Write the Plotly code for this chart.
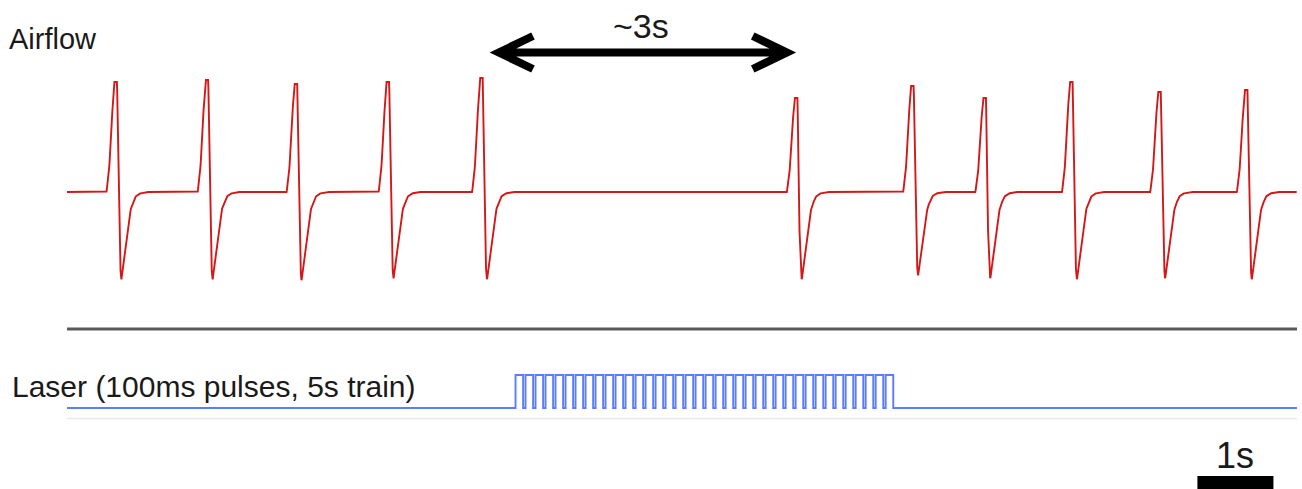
import numpy as np
import plotly.graph_objects as go

W, H = 1302, 489
T_END = 16.18  # record length shown (s)

# Breath events: time of inspiratory peak (s), peak height and trough depth (a.u.)
breath_t = [0.64, 1.84, 3.01, 4.22, 5.45, 9.59, 11.12, 12.07, 13.21, 14.37, 15.51]
breath_peak = [1.10, 1.12, 1.08, 1.10, 1.14, 0.94, 1.06, 0.94, 1.10, 1.00, 1.02]
breath_trough = [0.88, 0.88, 0.89, 0.87, 0.88, 0.88, 0.84, 0.87, 0.88, 0.87, 0.88]

# Single-breath waveform: offset from the peak (s) and normalised level
shape_dt = [-0.121, -0.105, -0.085, -0.068, -0.047, -0.025, -0.018, 0.018, 0.030,
            0.045, 0.060, 0.075, 0.097, 0.150, 0.200, 0.253, 0.305, 0.395]
shape_lv = [0.0, 0.08, 0.22, 0.39, 0.69, 0.96, 1.0, 1.0, 0.55,
            -0.42, -0.85, -1.0, -0.85, -0.46, -0.19, -0.06, -0.02, 0.0]

# Laser stimulation protocol
train_start = 5.90    # s
n_pulses = 38
pulse_period = 0.1316  # s
pulse_on = 0.100       # s

# Scale bar
bar_start, bar_len = 14.87, 1.0

# ---- airflow trace ----
t = np.arange(0.0, T_END, 0.004)
flow = np.zeros_like(t)
sdt = np.array(shape_dt)
slv = np.array(shape_lv)
for tp, pk, tr in zip(breath_t, breath_peak, breath_trough):
    lv = np.interp(t - tp, sdt, slv, left=0.0, right=0.0)
    flow += np.where(lv > 0, lv * pk, lv * tr)

# ---- laser trace (step waveform) ----
lx, ly = [0.0], [0.0]
for k in range(n_pulses):
    on = train_start + k * pulse_period
    off = on + pulse_on
    lx += [on, on, off, off]
    ly += [0.0, 1.0, 1.0, 0.0]
lx.append(T_END)
ly.append(0.0)

X0, X1 = 67, 1297  # pixel extent of the time axis


def py(p):
    """pixel row -> paper y"""
    return 1 - p / H


def px(p):
    """pixel column -> paper x"""
    return p / W


fig = go.Figure()
fig.add_trace(go.Scatter(x=t, y=flow, mode="lines",
                         line=dict(color="#d41818", width=1.9),
                         xaxis="x", yaxis="y", hoverinfo="skip"))
fig.add_trace(go.Scatter(x=lx, y=ly, mode="lines",
                         line=dict(color="#5a7cff", width=1.9),
                         xaxis="x", yaxis="y2", hoverinfo="skip"))

# airflow: baseline 0 at row 192, 100 px per unit; panel rows 60..300
fig.update_layout(
    width=W, height=H,
    margin=dict(l=0, r=0, t=0, b=0),
    paper_bgcolor="white", plot_bgcolor="white",
    showlegend=False,
    xaxis=dict(domain=[px(X0), px(X1)], range=[0, T_END], visible=False),
    yaxis=dict(domain=[py(300), py(60)], range=[-1.08, 1.32], visible=False),
    yaxis2=dict(domain=[py(420), py(360)], range=[-12 / 33, 48 / 33],
                visible=False, anchor="x"),
)

shapes = []
# separator between panels
shapes.append(dict(type="line", xref="paper", yref="paper",
                   x0=px(X0), x1=px(X1), y0=py(329), y1=py(329),
                   line=dict(color="#5a5a5a", width=3)))
# faint line under laser trace
shapes.append(dict(type="line", xref="paper", yref="paper",
                   x0=px(X0), x1=px(X1), y0=py(418.5), y1=py(418.5),
                   line=dict(color="#e8e8e8", width=1.5)))
# apnea double arrow
a0, a1 = 5.68, 9.47
ay = py(52.5)
dy = 16.5 / H
arm = 0.45
path = (f"M {a0},{ay} L {a1},{ay} "
        f"M {a0 + arm},{ay + dy} L {a0},{ay} L {a0 + arm},{ay - dy} "
        f"M {a1 - arm},{ay + dy} L {a1},{ay} L {a1 - arm},{ay - dy}")
shapes.append(dict(type="path", xref="x", yref="paper", path=path,
                   line=dict(color="black", width=8)))
# 1 s scale bar
shapes.append(dict(type="rect", xref="x", yref="paper",
                   x0=bar_start, x1=bar_start + bar_len, y0=py(495), y1=py(476),
                   fillcolor="black", line=dict(width=0)))
fig.update_layout(shapes=shapes)

font = dict(family="Liberation Sans, Arial, sans-serif", color="#1a1a1a")
ann = [
    dict(text="Airflow", x=px(7), y=py(39), xanchor="left", yanchor="middle",
         font=dict(size=29, **font)),
    dict(text="Laser (100ms pulses, 5s train)", x=px(10), y=py(386),
         xanchor="left", yanchor="middle", font=dict(size=30, **font)),
    dict(text="~3s", x=px(641), y=py(26), xanchor="center", yanchor="middle",
         font=dict(size=34, **font)),
    dict(text="1s", xref="x", x=bar_start + bar_len / 2, y=py(455),
         xanchor="center", yanchor="middle", font=dict(size=36, **font)),
]
for a in ann:
    a.setdefault("xref", "paper")
    a["yref"] = "paper"
    a["showarrow"] = False
fig.update_layout(annotations=ann)

fig.write_html("out.html")
